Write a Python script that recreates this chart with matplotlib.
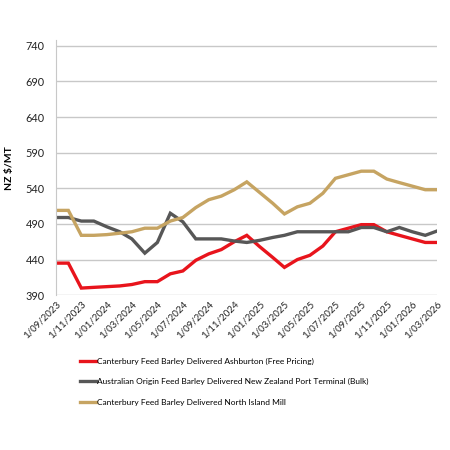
import matplotlib.pyplot as plt
import matplotlib.dates as mdates
import pandas as pd

months = pd.date_range('2023-09-01', '2026-03-01', freq='MS')

ashburton = [435, 435, 400, 401, 402, 403, 405, 409, 409, 420, 424, 439, 448, 454, 465, 474,
             458, 443, 429, 440, 446, 459, 479, 484, 489, 489, 479, 474, 469, 464, 464]
aus_port = [499, 499, 494, 494, 486, 479, 469, 449, 464, 505, 493, 469, 469, 469, 466, 464,
            467, 471, 474, 479, 479, 479, 479, 479, 485, 485, 479, 485, 479, 474, 480]
north_island = [509, 509, 474, 474, 475, 477, 479, 484, 484, 494, 499, 513, 524, 529, 538, 549,
                534, 519, 504, 514, 519, 533, 554, 559, 564, 564, 553, 548, 543, 538, 538]

series = [
    ('Canterbury Feed Barley Delivered Ashburton (Free Pricing)', ashburton, '#e8141c'),
    ('Australian Origin Feed Barley Delivered New Zealand Port Terminal (Bulk)', aus_port, '#575757'),
    ('Canterbury Feed Barley Delivered North Island Mill', north_island, '#c6a462'),
]

plt.rcParams['font.family'] = ['Lato', 'DejaVu Sans']

fig = plt.figure(figsize=(4.5, 4.5), dpi=100)
ax = fig.add_axes([0.124, 0.344, 0.847, 0.567])

for name, vals, col in series:
    ax.plot(months, vals, color=col, lw=2.4, label=name, solid_joinstyle='miter')

ax.set_ylim(390, 748)
ax.set_yticks(range(390, 741, 50))
ax.set_xlim(months[0], months[-1])
ax.set_xticks(months[::2])
ax.xaxis.set_major_formatter(mdates.DateFormatter('%d/%m/%Y'))
labels = [f'1/{d.month:02d}/{d.year}' for d in months[::2]]
ax.set_xticklabels(labels, rotation=45, ha='right', rotation_mode='anchor', fontsize=7)
ax.tick_params(axis='y', labelsize=7.8, length=0, pad=8, labelcolor='#222222')
ax.tick_params(axis='x', length=0, pad=3, labelcolor='#222222')
ax.grid(axis='y', color='#c8c8c8', lw=1)
for s in ['top', 'right', 'bottom']:
    ax.spines[s].set_visible(False)
ax.spines['left'].set_color('#c8c8c8')
ax.set_ylabel('NZ $/MT', fontsize=7.5, fontweight='bold', labelpad=8)

fig.legend(loc='upper left', bbox_to_anchor=(0.16, 0.222), frameon=False, fontsize=6,
           handlelength=2.0, handletextpad=0.1, labelspacing=1.6)

fig.savefig('out.png', dpi=100)
